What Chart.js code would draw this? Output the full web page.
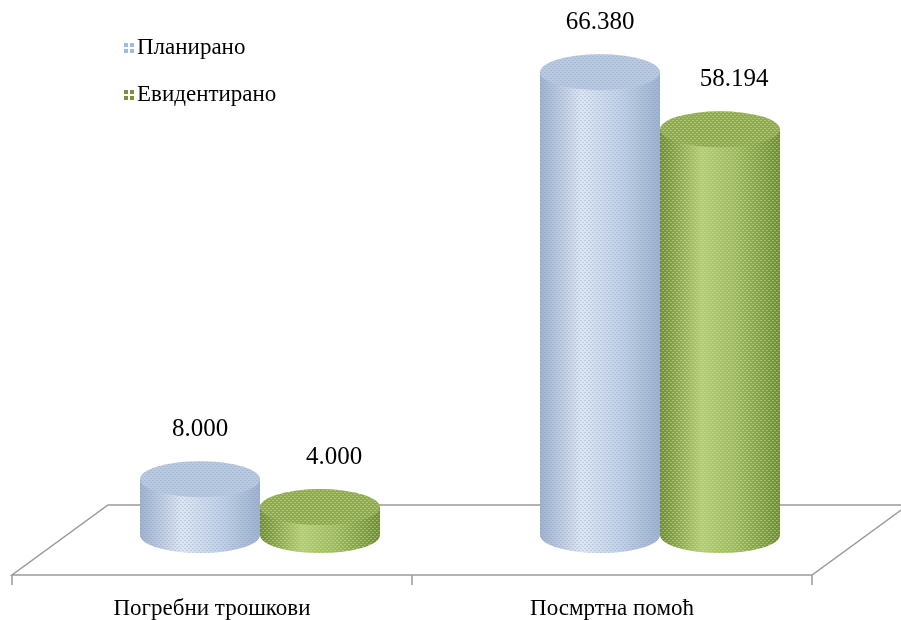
<!DOCTYPE html>
<html>
<head>
<meta charset="utf-8">
<script src="https://cdn.jsdelivr.net/npm/chart.js@4.4.1/dist/chart.umd.min.js"></script>
<style>
  body { margin: 0; background: #fff; }
  #wrap { width: 901px; height: 620px; position: relative; }
</style>
</head>
<body>
<div id="wrap"><canvas id="myChart"></canvas></div>
<script>
const categories = ['Погребни трошкови', 'Посмртна помоћ'];
const planned = [8000, 66380];
const recorded = [4000, 58194];
const seriesNames = ['Планирано', 'Евидентирано'];
const valueLabels = [['8.000', '66.380'], ['4.000', '58.194']];

const FONT = '"Liberation Serif", "DejaVu Serif", serif';
const DEPTH = 48;   // half of the 3d floor offset
const RY = 18;      // ellipse half height

const looks = [
  { light: '#dde6f2', mid: '#c4d3e8', dark: '#9fb2cf', top: '#b9c9e0', dot: 'rgba(120,145,190,0.30)', key: '#9dbbe4', shift: 0 },
  { light: '#b4cc78', mid: '#9bb860', dark: '#6f8c38', top: '#8faa52', dot: 'rgba(215,235,160,0.45)', key: '#77933c', shift: 14 }
];

function makePattern(ctx, color) {
  const c = document.createElement('canvas');
  c.width = 4; c.height = 4;
  const p = c.getContext('2d');
  p.fillStyle = color;
  p.fillRect(0, 0, 2, 1);
  p.fillRect(2, 2, 2, 1);
  return ctx.createPattern(c, 'repeat');
}

function cylinder(ctx, x, w, top, base, look) {
  const l = x - w / 2, r = x + w / 2, rx = w / 2;
  const grad = ctx.createLinearGradient(l, 0, r, 0);
  grad.addColorStop(0, look.dark);
  grad.addColorStop(0.35, look.light);
  grad.addColorStop(0.65, look.mid);
  grad.addColorStop(1, look.dark);
  ctx.beginPath();
  ctx.moveTo(l, top);
  ctx.lineTo(l, base);
  ctx.ellipse(x, base, rx, RY, 0, Math.PI, 0, true);
  ctx.lineTo(r, top);
  ctx.closePath();
  ctx.fillStyle = grad;
  ctx.fill();
  ctx.fillStyle = makePattern(ctx, look.dot);
  ctx.fill();
  ctx.beginPath();
  ctx.ellipse(x, top, rx, RY, 0, 0, Math.PI * 2);
  ctx.fillStyle = look.top;
  ctx.fill();
  ctx.fillStyle = makePattern(ctx, look.dot);
  ctx.fill();
}

const cylinderPlugin = {
  id: 'cylinders',
  beforeDatasetsDraw(chart) {
    const ctx = chart.ctx;
    const xs = chart.scales.x;
    const base = chart.chartArea.bottom;
    const half = (xs.getPixelForValue(1) - xs.getPixelForValue(0)) / 2;
    const fl = xs.getPixelForValue(0) - half - DEPTH;
    const fr = xs.getPixelForValue(1) + half - DEPTH;
    const frontY = base + 40, backY = base - 30;
    ctx.save();
    ctx.strokeStyle = '#9a9a9a';
    ctx.lineWidth = 1.5;
    ctx.beginPath();
    ctx.moveTo(fl + 2 * DEPTH, backY);
    ctx.lineTo(fr + 2 * DEPTH, backY);
    ctx.lineTo(fr, frontY);
    ctx.lineTo(fl, frontY);
    ctx.closePath();
    ctx.stroke();
    ctx.beginPath();
    [fl, (fl + fr) / 2, fr].forEach(t => { ctx.moveTo(t, frontY); ctx.lineTo(t, frontY + 10); });
    ctx.stroke();
    ctx.fillStyle = '#000';
    ctx.font = '23px ' + FONT;
    ctx.textAlign = 'center';
    ctx.textBaseline = 'middle';
    categories.forEach((c, i) => ctx.fillText(c, xs.getPixelForValue(i) - DEPTH, frontY + 34));
    ctx.restore();
  },
  afterDatasetsDraw(chart) {
    const ctx = chart.ctx;
    ctx.save();
    chart.data.datasets.forEach((ds, d) => {
      chart.getDatasetMeta(d).data.forEach((bar, i) => {
        cylinder(ctx, bar.x, bar.width, bar.y, bar.base, looks[d]);
        ctx.fillStyle = '#000';
        ctx.font = '25px ' + FONT;
        ctx.textAlign = 'center';
        ctx.textBaseline = 'middle';
        ctx.fillText(valueLabels[d][i], bar.x + looks[d].shift, bar.y - RY - 32);
      });
    });
    // legend
    ctx.font = '23px ' + FONT;
    ctx.textAlign = 'left';
    ctx.textBaseline = 'middle';
    seriesNames.forEach((n, d) => {
      const y = 48 + d * 47;
      ctx.fillStyle = looks[d].key;
      ctx.fillRect(124, y - 5, 10, 10);
      ctx.fillStyle = '#fff';
      ctx.fillRect(128, y - 5, 2, 10);
      ctx.fillRect(124, y - 1, 10, 2);
      ctx.fillStyle = '#000';
      ctx.fillText(n, 137, y);
    });
    ctx.restore();
  }
};

new Chart(document.getElementById('myChart'), {
  type: 'bar',
  data: {
    labels: categories,
    datasets: [
      { label: seriesNames[0], data: planned, backgroundColor: 'transparent', categoryPercentage: 0.6, barPercentage: 1 },
      { label: seriesNames[1], data: recorded, backgroundColor: 'transparent', categoryPercentage: 0.6, barPercentage: 1 }
    ]
  },
  options: {
    responsive: true,
    maintainAspectRatio: false,
    animation: false,
    layout: { padding: { left: 60, right: 41, top: 40, bottom: 85 } },
    plugins: { legend: { display: false }, tooltip: { enabled: false } },
    scales: {
      x: { display: false },
      y: { display: false, min: 0, max: 71000 }
    }
  },
  plugins: [cylinderPlugin]
});
</script>
</body>
</html>
